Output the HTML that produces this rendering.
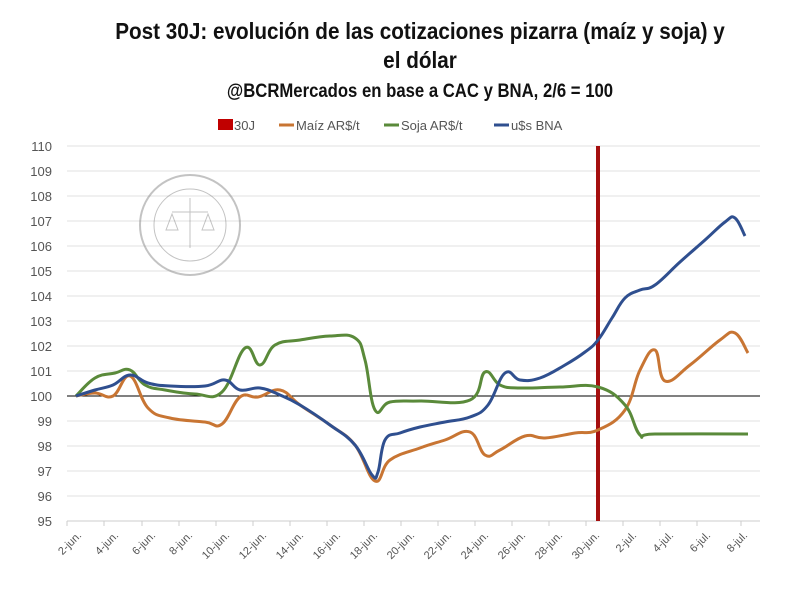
<!DOCTYPE html>
<html><head><meta charset="utf-8"><style>
body{margin:0;background:#fff;width:800px;height:584px;overflow:hidden;font-family:"Liberation Sans",sans-serif}
</style></head><body>
<svg id="s" width="800" height="584" xmlns="http://www.w3.org/2000/svg" font-family="Liberation Sans, sans-serif">
<text x="420" y="39" text-anchor="middle" font-size="23" font-weight="bold" fill="#111" transform="translate(420,0) scale(0.9,1) translate(-420,0)">Post 30J: evolución de las cotizaciones pizarra (maíz y soja) y</text>
<text x="420" y="68" text-anchor="middle" font-size="23" font-weight="bold" fill="#111" transform="translate(420,0) scale(0.9,1) translate(-420,0)">el dólar</text>
<text x="420" y="97" text-anchor="middle" font-size="19" font-weight="bold" fill="#111" transform="translate(420,0) scale(0.88,1) translate(-420,0)">@BCRMercados en base a CAC y BNA, 2/6 = 100</text>
<g font-size="13" fill="#555">
<rect x="218" y="119" width="15" height="11" fill="#c00000"/><text x="234" y="130">30J</text>
<line x1="279" y1="125" x2="294" y2="125" stroke="#c87533" stroke-width="3"/><text x="296" y="130">Maíz AR$/t</text>
<line x1="384" y1="125" x2="399" y2="125" stroke="#5a8a3a" stroke-width="3"/><text x="401" y="130">Soja AR$/t</text>
<line x1="494" y1="125" x2="509" y2="125" stroke="#2f4f8f" stroke-width="3"/><text x="511" y="130">u$s BNA</text>
</g>
<g stroke="#e0e0e0" stroke-width="1">
<line x1="67" x2="760" y1="146" y2="146"/><line x1="67" x2="760" y1="171" y2="171"/><line x1="67" x2="760" y1="196" y2="196"/><line x1="67" x2="760" y1="221" y2="221"/><line x1="67" x2="760" y1="246" y2="246"/><line x1="67" x2="760" y1="271" y2="271"/><line x1="67" x2="760" y1="296" y2="296"/><line x1="67" x2="760" y1="321" y2="321"/><line x1="67" x2="760" y1="346" y2="346"/><line x1="67" x2="760" y1="371" y2="371"/><line x1="67" x2="760" y1="421" y2="421"/><line x1="67" x2="760" y1="446" y2="446"/><line x1="67" x2="760" y1="471" y2="471"/><line x1="67" x2="760" y1="496" y2="496"/><line x1="67" x2="760" y1="521" y2="521" stroke="#ccc"/>
</g>
<g font-size="13" fill="#555" text-anchor="end">
<text x="52" y="151">110</text><text x="52" y="176">109</text><text x="52" y="201">108</text><text x="52" y="226">107</text><text x="52" y="251">106</text><text x="52" y="276">105</text><text x="52" y="301">104</text><text x="52" y="326">103</text><text x="52" y="351">102</text><text x="52" y="376">101</text><text x="52" y="401">100</text><text x="52" y="426">99</text><text x="52" y="451">98</text><text x="52" y="476">97</text><text x="52" y="501">96</text><text x="52" y="526">95</text>
</g>
<g stroke="#ccc"><path d="M67 521v5M104 521v5M142 521v5M179 521v5M216 521v5M253 521v5M290 521v5M327 521v5M364 521v5M401 521v5M438 521v5M475 521v5M512 521v5M549 521v5M586 521v5M623 521v5M660 521v5M697 521v5M741 521v5"/></g>
<g font-size="11" fill="#555" text-anchor="end">
<text transform="translate(82,536) rotate(-45)">2-jun.</text><text transform="translate(119,536) rotate(-45)">4-jun.</text><text transform="translate(156,536) rotate(-45)">6-jun.</text><text transform="translate(193,536) rotate(-45)">8-jun.</text><text transform="translate(230,536) rotate(-45)">10-jun.</text><text transform="translate(267,536) rotate(-45)">12-jun.</text><text transform="translate(304,536) rotate(-45)">14-jun.</text><text transform="translate(341,536) rotate(-45)">16-jun.</text><text transform="translate(378,536) rotate(-45)">18-jun.</text><text transform="translate(415,536) rotate(-45)">20-jun.</text><text transform="translate(452,536) rotate(-45)">22-jun.</text><text transform="translate(489,536) rotate(-45)">24-jun.</text><text transform="translate(526,536) rotate(-45)">26-jun.</text><text transform="translate(563,536) rotate(-45)">28-jun.</text><text transform="translate(600,536) rotate(-45)">30-jun.</text><text transform="translate(637,536) rotate(-45)">2-jul.</text><text transform="translate(674,536) rotate(-45)">4-jul.</text><text transform="translate(711,536) rotate(-45)">6-jul.</text><text transform="translate(748,536) rotate(-45)">8-jul.</text>
</g>
<g opacity="0.5" fill="none" stroke="#888">
<circle cx="190" cy="225" r="50" stroke-width="2"/><circle cx="190" cy="225" r="36"/>
<path d="M190 198v50M172 212h36M166 230l6-16 6 16zM202 230l6-16 6 16z"/>
</g>
<line x1="67" x2="760" y1="396" y2="396" stroke="#000" stroke-width="1"/>
<line x1="598" x2="598" y1="146" y2="521" stroke="#a50f0f" stroke-width="4"/>
<g fill="none" stroke-width="3" stroke-linejoin="round" id="lines">
<polyline stroke="#c87533" points="76,396 95,393 113,396 130,376 148,408 170,418 205,422 222,424 240,397 258,397 280,390 300,405 330,425 355,445 375,481 390,460 420,448 445,440 470,432 485,455 500,450 525,436 545,438 575,433 598,430 625,410 640,370 655,350 665,381 690,365 720,340 735,333 748,353"/>
<polyline stroke="#5a8a3a" points="76,396 95,378 115,373 130,370 145,385 165,390 195,394 222,392 245,348 260,365 275,345 300,340 330,336 355,338 365,360 375,410 390,402 420,401 470,400 485,372 500,385 520,388 560,387 598,387 625,405 640,435 655,434 748,434"/>
<polyline stroke="#2f4f8f" points="76,396 95,390 113,385 130,375 148,383 170,386 205,386 225,380 240,390 260,388 280,395 300,405 330,425 355,445 372,475 378,472 385,440 400,433 420,427 445,422 470,417 488,405 505,373 520,380 540,378 565,365 585,352 598,340 612,318 625,298 640,290 655,285 680,262 705,240 725,222 735,218 745,236"/>
</g>
</svg>
<script>
document.querySelectorAll('#lines polyline').forEach(function(pl){
 var p=pl.getAttribute('points').trim().split(/\s+/).map(function(s){return s.split(',').map(Number)});
 var d='M'+p[0][0]+' '+p[0][1];
 for(var i=0;i<p.length-1;i++){
  var p0=p[i-1]||p[i],p1=p[i],p2=p[i+1],p3=p[i+2]||p2,t=0.2;
  var c1=[p1[0]+(p2[0]-p0[0])*t,p1[1]+(p2[1]-p0[1])*t];
  var c2=[p2[0]-(p3[0]-p1[0])*t,p2[1]-(p3[1]-p1[1])*t];
  d+=' C'+c1+' '+c2+' '+p2;
 }
 var e=document.createElementNS('http://www.w3.org/2000/svg','path');
 e.setAttribute('d',d);e.setAttribute('stroke',pl.getAttribute('stroke'));
 pl.parentNode.replaceChild(e,pl);
});
</script>
</body></html>
